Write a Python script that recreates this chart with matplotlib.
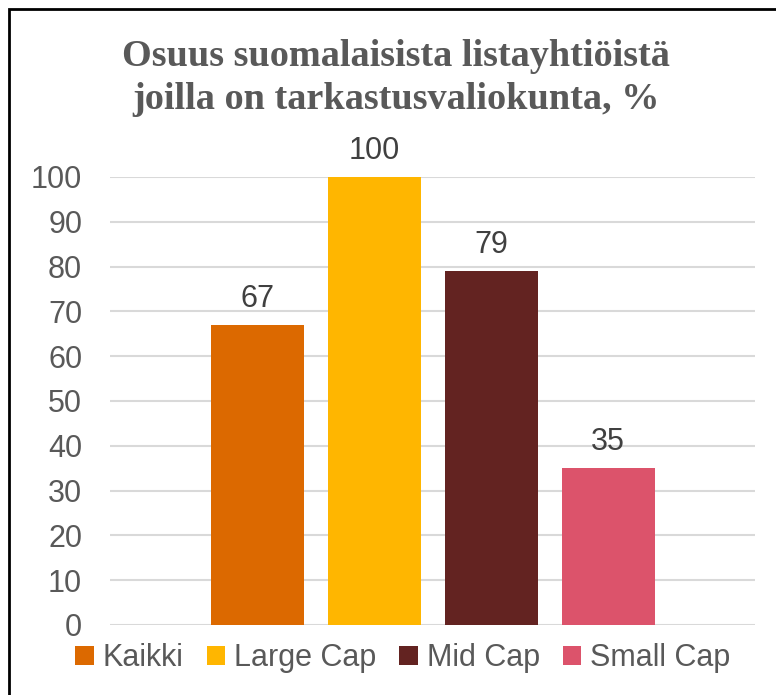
import matplotlib.pyplot as plt
from matplotlib.patches import Rectangle

series = ['Kaikki', 'Large Cap', 'Mid Cap', 'Small Cap']
values = [67, 100, 79, 35]
colors = ['#DC6900', '#FFB600', '#632321', '#DC536B']
yticks = [0, 10, 20, 30, 40, 50, 60, 70, 80, 90, 100]
title = 'Osuus suomalaisista listayhtiöistä\njoilla on tarkastusvaliokunta, %'

plt.rcParams['font.family'] = ['Liberation Sans', 'DejaVu Sans']

W, H = 776, 695
fig = plt.figure(figsize=(W / 100, H / 100), dpi=100)
ax = fig.add_axes([110 / W, 1 - 625 / H, (755 - 110) / W, (625 - 177) / H])

step = 117 / 645
width = 93 / 645
for i, (name, v, c) in enumerate(zip(series, values, colors)):
    bars = ax.bar((i - 1.5) * step, v, width=width, color=c, label=name, zorder=3)
    ax.bar_label(bars, padding=8, fontsize=22, color='#404040')

ax.set_xlim(-0.5, 0.5)
ax.set_ylim(0, 100)
ax.set_yticks(yticks)
ax.set_xticks([])
ax.tick_params(axis='y', length=0, labelsize=22, labelcolor='#595959', pad=20)
ax.grid(axis='y', color='#d9d9d9', linewidth=1.5, zorder=0)
for s in ax.spines.values():
    s.set_visible(False)

fig.text(396 / W, 1 - 78 / H, title, ha='center', va='center', fontsize=27.5,
         fontweight='bold', family=['Liberation Serif', 'DejaVu Serif'],
         color='#595959', linespacing=1.3)

fig.legend(loc='center', bbox_to_anchor=(403 / W, 1 - 658 / H), ncol=4, frameon=False,
           fontsize=22, labelcolor='#595959', handlelength=0.6, handleheight=0.6,
           handletextpad=0.3, columnspacing=0.75, borderpad=0)

fig.add_artist(Rectangle((9 / W, -0.1), 1.2, 1.1 - 9 / H, transform=fig.transFigure,
                         fill=False, edgecolor='black', linewidth=2))

fig.savefig('out.png', dpi=100)
